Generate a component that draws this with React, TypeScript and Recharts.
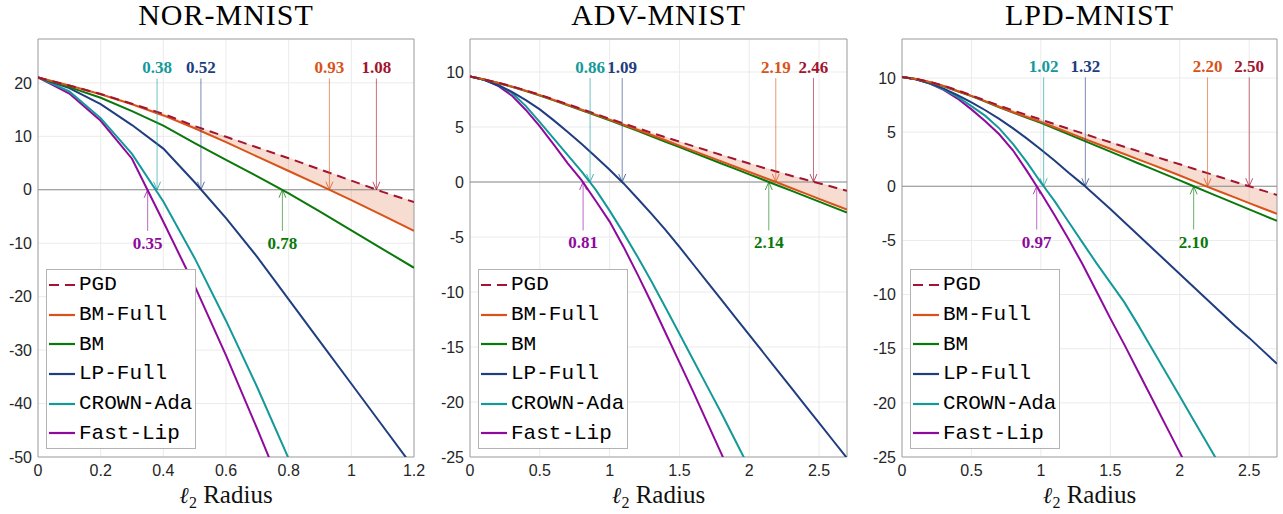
import React from 'react';
import {
  Area,
  CartesianGrid,
  ComposedChart,
  Legend,
  Line,
  ReferenceArea,
  ReferenceLine,
  XAxis,
  YAxis,
} from 'recharts';

// radius samples
const radiusNor = [0, 0.1, 0.2, 0.3, 0.4, 0.5, 0.6, 0.7, 0.8, 0.9, 1.0, 1.1, 1.2];
const radiusWide = [
  0, 0.1, 0.2, 0.3, 0.4, 0.5, 0.6, 0.7, 0.8, 0.9, 1.0, 1.1, 1.2, 1.3, 1.4, 1.5, 1.6, 1.7, 1.8, 1.9, 2.0,
  2.1, 2.2, 2.3, 2.4, 2.5, 2.6, 2.7,
];

// NOR-MNIST
const norPgd = [21, 19.5, 17.9, 16.1, 14.2, 11.9, 9.9, 7.9, 5.9, 3.8, 1.7, -0.4, -2.3];
const norBmFull = [21, 19.5, 17.85, 16.0, 13.9, 11.5, 8.9, 6.2, 3.5, 0.8, -1.95, -4.8, -7.7];
const norBm = [21, 19.2, 17.2, 14.7, 12.0, 8.7, 5.6, 2.5, -0.7, -4.1, -7.6, -11.1, -14.6];
const norLpFull = [21, 19.0, 16.0, 12.1, 7.7, 1.4, -5.3, -12.6, -20.5, -28.4, -36.3, -44.2, -52.1];
const norCrown = [21, 18.4, 13.4, 6.7, -2.2, -12.8, -24.5, -37.0, -50.3, null, null, null, null];
const norFastLip = [21, 18.0, 12.9, 5.8, -6.0, -18.0, -31.0, -44.8, -59.0, null, null, null, null];
const norCross = [1.08, 0.93, 0.78, 0.52, 0.38, 0.35];

// ADV-MNIST
const advPgd = [
  9.6, 9.33, 9.03, 8.7, 8.33, 7.93, 7.5, 7.07, 6.63, 6.19, 5.75, 5.32, 4.9, 4.48, 4.07, 3.66, 3.26, 2.86,
  2.46, 2.07, 1.68, 1.3, 0.93, 0.57, 0.22, -0.12, -0.46, -0.8,
];
const advBmFull = [
  9.6, 9.33, 9.02, 8.68, 8.3, 7.9, 7.46, 7.02, 6.57, 6.12, 5.67, 5.21, 4.75, 4.27, 3.79, 3.31, 2.83, 2.35,
  1.87, 1.39, 0.91, 0.43, -0.05, -0.55, -1.04, -1.53, -2.02, -2.51,
];
const advBm = [
  9.6, 9.32, 9.0, 8.65, 8.26, 7.86, 7.42, 6.97, 6.52, 6.06, 5.6, 5.13, 4.65, 4.16, 3.66, 3.17, 2.67, 2.18,
  1.68, 1.19, 0.69, 0.2, -0.3, -0.79, -1.29, -1.78, -2.28, -2.77,
];
const advLpFull = [
  9.6, 9.3, 8.8, 8.2, 7.45, 6.6, 5.6, 4.55, 3.45, 2.3, 1.12, -0.13, -1.5, -2.9, -4.35, -5.9, -7.5, -9.1,
  -10.7, -12.3, -13.9, -15.5, -17.1, -18.7, -20.3, -21.9, -23.5, -25.1,
];
const advCrown = [
  9.6, 9.3, 8.85, 8.1, 6.9, 5.45, 3.95, 2.45, 0.95, -0.7, -2.6, -4.65, -6.8, -9.05, -11.4, -13.8, -16.2,
  -18.6, -21.0, -23.5, -26.0, null, null, null, null, null, null, null,
];
const advFastLip = [
  9.6, 9.3, 8.75, 7.85, 6.55, 5.05, 3.4, 1.7, 0.15, -1.7, -3.6, -5.9, -8.4, -11.0, -13.7, -16.4, -19.1,
  -21.9, -24.7, -27.5, null, null, null, null, null, null, null, null,
];
const advCross = [2.46, 2.19, 2.14, 1.09, 0.86, 0.81];

// LPD-MNIST
const lpdPgd = [
  10.1, 9.92, 9.65, 9.3, 8.86, 8.4, 7.92, 7.45, 7.0, 6.58, 6.16, 5.73, 5.31, 4.89, 4.47, 4.06, 3.65, 3.25,
  2.84, 2.43, 2.03, 1.62, 1.21, 0.81, 0.4, 0, -0.4, -0.8,
];
const lpdBmFull = [
  10.1, 9.91, 9.63, 9.26, 8.8, 8.35, 7.86, 7.34, 6.84, 6.4, 5.95, 5.45, 4.95, 4.45, 3.95, 3.47, 2.98, 2.49,
  2.0, 1.5, 1.0, 0.48, -0.05, -0.55, -1.05, -1.55, -2.05, -2.55,
];
const lpdBm = [
  10.1, 9.9, 9.6, 9.24, 8.78, 8.32, 7.82, 7.3, 6.8, 6.33, 5.86, 5.32, 4.79, 4.26, 3.73, 3.2, 2.67, 2.13,
  1.6, 1.07, 0.54, 0, -0.54, -1.07, -1.6, -2.13, -2.67, -3.2,
];
const lpdLpFull = [
  10.1, 9.88, 9.52, 9.02, 8.42, 7.75, 7.02, 6.23, 5.35, 4.4, 3.4, 2.35, 1.25, 0.2, -0.95, -2.1, -3.3, -4.5,
  -5.7, -6.9, -8.1, -9.3, -10.5, -11.7, -12.9, -14.0, -15.2, -16.4,
];
const lpdCrown = [
  10.1, 9.88, 9.5, 8.95, 8.25, 7.4, 6.5, 5.35, 3.9, 2.2, 0.35, -1.4, -3.3, -5.2, -7.1, -8.9, -10.7, -12.8,
  -15.0, -17.2, -19.4, -21.6, -23.8, -26.0, null, null, null, null,
];
const lpdFastLip = [
  10.1, 9.88, 9.48, 8.9, 8.1, 7.1, 6.0, 4.8, 3.3, 1.4, -0.6, -2.7, -4.9, -7.2, -9.7, -12.2, -14.6, -17.1,
  -19.6, -22.1, -24.6, -27.1, null, null, null, null, null, null,
];
const lpdCross = [2.5, 2.2, 2.1, 1.32, 1.02, 0.97];

const norXTicks = [0, 0.2, 0.4, 0.6, 0.8, 1, 1.2];
const wideXTicks = [0, 0.5, 1, 1.5, 2, 2.5];
const norYTicks = [-50, -40, -30, -20, -10, 0, 10, 20];
const wideYTicks = [-25, -20, -15, -10, -5, 0, 5, 10];

const SERIES = [
  { key: 'pgd', name: 'PGD', color: '#A2142F', dash: '9 6', below: false },
  { key: 'bmFull', name: 'BM-Full', color: '#D95319', dash: undefined, below: false },
  { key: 'bm', name: 'BM', color: '#0A780A', dash: undefined, below: true },
  { key: 'lpFull', name: 'LP-Full', color: '#203D80', dash: undefined, below: false },
  { key: 'crown', name: 'CROWN-Ada', color: '#14999A', dash: undefined, below: false },
  { key: 'fastLip', name: 'Fast-Lip', color: '#8F0A9C', dash: undefined, below: true },
];

const PANELS = [
  {
    title: 'NOR-MNIST', left: 0, width: 428, yWidth: 38, right: 14,
    radius: radiusNor, values: [norPgd, norBmFull, norBm, norLpFull, norCrown, norFastLip], cross: norCross,
    xMax: 1.2, xTicks: norXTicks, yMin: -50, yMax: 28.2, yTicks: norYTicks, arrowTop: 20.8, arrowBottom: -7.7,
  },
  {
    title: 'ADV-MNIST', left: 430, width: 426, yWidth: 40, right: 9,
    radius: radiusWide, values: [advPgd, advBmFull, advBm, advLpFull, advCrown, advFastLip], cross: advCross,
    xMax: 2.7, xTicks: wideXTicks, yMin: -25, yMax: 13, yTicks: wideYTicks, arrowTop: 9.45, arrowBottom: -4.4,
  },
  {
    title: 'LPD-MNIST', left: 860, width: 423, yWidth: 42, right: 6,
    radius: radiusWide, values: [lpdPgd, lpdBmFull, lpdBm, lpdLpFull, lpdCrown, lpdFastLip], cross: lpdCross,
    xMax: 2.7, xTicks: wideXTicks, yMin: -25, yMax: 13.6, yTicks: wideYTicks, arrowTop: 10.05, arrowBottom: -4.0,
  },
];

const TOP = 39;
const BOTTOM = 27;
const XAXIS_H = 30;
const H = 514;

const tickStyle = { fontFamily: '"Liberation Sans", Arial, sans-serif', fontSize: 16, fill: '#262626' };

const arrowShape = (color: string, label: string, below: boolean) => (props: any) => {
  const { x1, y1, x2, y2 } = props;
  const dir = below ? 1 : -1;
  return (
    <g>
      <line x1={x1} y1={y1} x2={x2} y2={y2} stroke={color} strokeOpacity={0.6} strokeWidth={1} />
      <path
        d={`M${x1 - 3.5},${y1 + dir * 8}L${x1},${y1}L${x1 + 3.5},${y1 + dir * 8}`}
        fill="none"
        stroke={color}
        strokeOpacity={0.75}
        strokeWidth={1}
      />
      <text
        x={x2}
        y={below ? y2 + 18 : y2 - 5.5}
        textAnchor="middle"
        fill={color}
        fontFamily='"Liberation Serif", "Times New Roman", serif'
        fontWeight="bold"
        fontSize={17}
      >
        {label}
      </text>
    </g>
  );
};

const LegendBox = ({ payload }: any) => {
  const names = SERIES.map((s) => s.name);
  const items = [...(payload || [])]
    .filter((p: any) => names.includes(p.value))
    .sort((a: any, b: any) => names.indexOf(a.value) - names.indexOf(b.value));
  return (
    <div
      style={{
        width: 150,
        height: 180,
        boxSizing: 'border-box',
        border: '1px solid #b3b3b3',
        background: '#fff',
      }}
    >
      {items.map((it: any) => {
        const s = SERIES.find((x) => x.name === it.value)!;
        return (
          <div key={it.value} style={{ height: 29.7, display: 'flex', alignItems: 'center' }}>
            <svg width={32} height={10} style={{ flex: 'none' }}>
              <line x1={2} x2={28} y1={5} y2={5} stroke={s.color} strokeWidth={2.2} strokeDasharray={s.dash ? '10 6' : undefined} />
            </svg>
            <span style={{ fontFamily: '"Liberation Mono", monospace', fontSize: 21, color: '#000', lineHeight: '21px' }}>
              {it.value}
            </span>
          </div>
        );
      })}
    </div>
  );
};

function Panel({ cfg }: { cfg: (typeof PANELS)[number] }) {
  const rows = cfg.radius.map((r, i) => {
    const row: any = { r };
    SERIES.forEach((s, k) => {
      row[s.key] = cfg.values[k][i];
    });
    row.band = [cfg.values[1][i], cfg.values[0][i]];
    return row;
  });
  const plotLeft = cfg.left + cfg.yWidth;
  const plotRight = cfg.left + cfg.width - cfg.right;
  const center = (plotLeft + plotRight) / 2;
  const drawOrder = [...SERIES].reverse();

  return (
    <>
      <div
        style={{
          position: 'absolute',
          left: center - 150,
          width: 300,
          top: 0,
          textAlign: 'center',
          fontFamily: '"Liberation Serif", "Times New Roman", serif',
          fontSize: 30,
          lineHeight: '30px',
          letterSpacing: 1,
          color: '#000',
        }}
      >
        {cfg.title}
      </div>
      <div
        style={{
          position: 'absolute',
          left: center - 100,
          width: 200,
          top: 482,
          textAlign: 'center',
          fontFamily: '"Liberation Serif", "Times New Roman", serif',
          fontSize: 25,
          lineHeight: '25px',
          color: '#111',
        }}
      >
        <span style={{ fontFamily: '"DejaVu Serif", serif', fontStyle: 'italic', fontSize: 23 }}>ℓ</span>
        <span style={{ fontSize: 16, position: 'relative', top: 5 }}>2</span> Radius
      </div>
      <div style={{ position: 'absolute', left: cfg.left, top: 0 }}>
        <ComposedChart
          width={cfg.width}
          height={H}
          data={rows}
          margin={{ top: TOP, right: cfg.right, bottom: BOTTOM, left: 0 }}
        >
          <CartesianGrid stroke="#ebebeb" strokeWidth={1} />
          <XAxis
            type="number"
            dataKey="r"
            domain={[0, cfg.xMax]}
            ticks={cfg.xTicks}
            interval={0}
            allowDataOverflow
            axisLine={false}
            tickLine={false}
            tickSize={0}
            tickMargin={8}
            height={XAXIS_H}
            tick={tickStyle}
          />
          <YAxis
            type="number"
            domain={[cfg.yMin, cfg.yMax]}
            ticks={cfg.yTicks}
            interval={0}
            allowDataOverflow
            axisLine={false}
            tickLine={false}
            tickSize={0}
            tickMargin={6}
            width={cfg.yWidth}
            tick={tickStyle}
          />
          <ReferenceLine y={0} stroke="#8c8c8c" strokeWidth={1.2} />
          <Area
            type="linear"
            dataKey="band"
            stroke="#D95319"
            strokeOpacity={0.15}
            fill="#D95319"
            fillOpacity={0.2}
            legendType="none"
            isAnimationActive={false}
            activeDot={false}
          />
          {drawOrder.map((s) => (
            <Line
              key={s.key}
              type="linear"
              dataKey={s.key}
              name={s.name}
              stroke={s.color}
              strokeWidth={2}
              strokeDasharray={s.dash}
              dot={false}
              activeDot={false}
              isAnimationActive={false}
            />
          ))}
          {SERIES.map((s, k) => {
            const c = cfg.cross[k];
            return (
              <ReferenceLine
                key={'arrow-' + s.key}
                segment={[
                  { x: c, y: 0 },
                  { x: c, y: s.below ? cfg.arrowBottom : cfg.arrowTop },
                ]}
                shape={arrowShape(s.color, c.toFixed(2), s.below)}
              />
            );
          })}
          <ReferenceArea
            x1={0}
            x2={cfg.xMax}
            y1={cfg.yMin}
            y2={cfg.yMax}
            fill="none"
            stroke="#a3a3a3"
            strokeWidth={1}
            ifOverflow="visible"
          />
          <Legend
            layout="vertical"
            align="center"
            verticalAlign="middle"
            content={<LegendBox />}
            wrapperStyle={{ left: cfg.yWidth + 8, top: 269, width: 150, height: 180 }}
          />
        </ComposedChart>
      </div>
    </>
  );
}

export default function App() {
  return (
    <div style={{ position: 'absolute', left: 0, top: 0, width: 1283, height: 514, background: '#fff' }}>
      {PANELS.map((p) => (
        <Panel key={p.title} cfg={p} />
      ))}
    </div>
  );
}
